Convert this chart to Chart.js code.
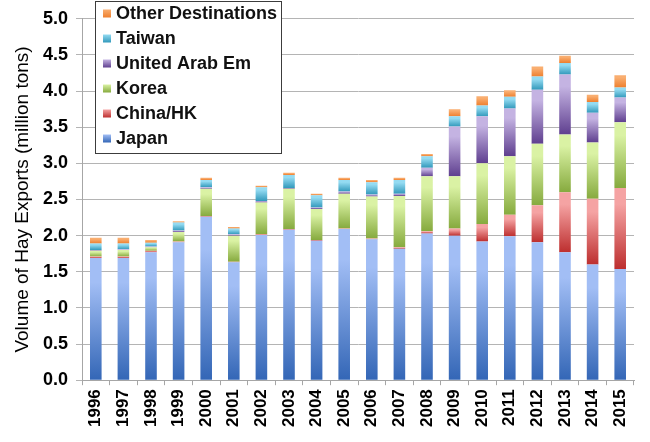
<!DOCTYPE html>
<html>
<head>
<meta charset="utf-8">
<script src="https://cdn.jsdelivr.net/npm/chart.js@4/dist/chart.umd.min.js"></script>
<style>
  html, body { margin: 0; padding: 0; background: #fff; }
  #wrap { width: 650px; height: 442px; }
</style>
</head>
<body>
<div id="wrap"><canvas id="hay"></canvas></div>
<script>
// ========== Data ==========
const years = ["1996", "1997", "1998", "1999", "2000", "2001", "2002", "2003", "2004", "2005",
  "2006", "2007", "2008", "2009", "2010", "2011", "2012", "2013", "2014", "2015"];

const japan  = [1.69, 1.69, 1.77, 1.91, 2.26, 1.63, 2.01, 2.08, 1.93, 2.09, 1.95, 1.82, 2.03, 2.00, 1.92, 1.99, 1.91, 1.77, 1.60, 1.54];
const china  = [0.02, 0.02, 0.02, 0.01, 0.01, 0.01, 0.01, 0.01, 0.01, 0.01, 0.01, 0.02, 0.03, 0.10, 0.24, 0.30, 0.51, 0.83, 0.91, 1.12];
const korea  = [0.08, 0.09, 0.05, 0.13, 0.38, 0.36, 0.44, 0.56, 0.43, 0.48, 0.58, 0.71, 0.76, 0.72, 0.84, 0.81, 0.85, 0.80, 0.78, 0.91];
const uae    = [0.01, 0.01, 0.01, 0.02, 0.02, 0.02, 0.02, 0.01, 0.02, 0.03, 0.03, 0.03, 0.12, 0.69, 0.65, 0.66, 0.75, 0.83, 0.41, 0.34];
const taiwan = [0.09, 0.08, 0.05, 0.11, 0.10, 0.08, 0.19, 0.18, 0.17, 0.16, 0.17, 0.19, 0.16, 0.14, 0.15, 0.16, 0.18, 0.16, 0.15, 0.14];
const other  = [0.08, 0.08, 0.04, 0.02, 0.03, 0.02, 0.02, 0.03, 0.02, 0.03, 0.03, 0.03, 0.03, 0.10, 0.13, 0.09, 0.14, 0.10, 0.10, 0.17];

const yTicks = [0, 0.5, 1, 1.5, 2, 2.5, 3, 3.5, 4, 4.5, 5];

// name, values, light (top) colour, dark (bottom) colour
const series = [
  ["Japan", japan, "#a2bef5", "#3366b6"],
  ["China/HK", china, "#f5a3a3", "#bd2f2f"],
  ["Korea", korea, "#daf2a4", "#86aa3e"],
  ["United Arab Em", uae, "#c4b3e2", "#5f3f8f"],
  ["Taiwan", taiwan, "#94dbf2", "#3299bb"],
  ["Other Destinations", other, "#f9ae70", "#ee7f2e"]
];

// ========== Gradient fill per stacked segment ==========
function hayGradient(light, dark) {
  return function (ctx) {
    const chart = ctx.chart;
    if (ctx.type !== "data" || !chart.scales || !chart.scales.y) return dark;
    const ds = chart.data.datasets;
    let start = 0;
    for (let k = 0; k < ctx.datasetIndex; k++) start += ds[k].data[ctx.dataIndex];
    const end = start + ds[ctx.datasetIndex].data[ctx.dataIndex];
    const yTop = chart.scales.y.getPixelForValue(end);
    const yBot = chart.scales.y.getPixelForValue(start);
    if (!isFinite(yTop) || !isFinite(yBot) || yBot - yTop < 0.5) return dark;
    const g = chart.ctx.createLinearGradient(0, yTop, 0, yBot);
    g.addColorStop(0, light);
    g.addColorStop(0.2, light);
    g.addColorStop(1, dark);
    return g;
  };
}

// ========== Boxed legend drawn inside plot ==========
const boxLegend = {
  id: "boxLegend",
  afterDraw(chart) {
    const c = chart.ctx;
    const x0 = 95, y0 = 1, w = 186, h = 152;
    c.save();
    c.fillStyle = "#ffffff";
    c.fillRect(x0, y0, w, h);
    c.strokeStyle = "#3c3c3c";
    c.lineWidth = 1;
    c.strokeRect(x0 + 0.5, y0 + 0.5, w, h);
    c.font = "bold 18px 'Liberation Sans', Arial, sans-serif";
    c.textBaseline = "middle";
    c.textAlign = "left";
    const items = chart.data.datasets.slice().reverse();
    items.forEach((d, i) => {
      const cy = 13.5 + i * 25;
      const g = c.createLinearGradient(0, cy - 4, 0, cy + 4);
      g.addColorStop(0, d.legendLight);
      g.addColorStop(1, d.legendDark);
      c.fillStyle = g;
      c.fillRect(103, cy - 4, 8, 8);
      c.fillStyle = "#111111";
      c.fillText(d.label, 116, cy + 1);
    });
    c.restore();
  }
};

// ========== Chart ==========
const datasets = series.map(s => ({
  label: s[0],
  data: s[1],
  backgroundColor: hayGradient(s[2], s[3]),
  legendLight: s[2],
  legendDark: s[3],
  borderWidth: 0,
  barPercentage: 0.42,
  categoryPercentage: 1.0
}));

new Chart(document.getElementById("hay"), {
  type: "bar",
  data: { labels: years, datasets },
  options: {
    responsive: true,
    maintainAspectRatio: false,
    animation: false,
    layout: { padding: { left: 0, right: 16, top: 3, bottom: 11 } },
    plugins: {
      legend: { display: false },
      tooltip: { enabled: false }
    },
    scales: {
      x: {
        stacked: true,
        grid: {
          offset: true,
          drawOnChartArea: false,
          drawTicks: true,
          tickLength: 5,
          color: "#a6a6a6"
        },
        border: { color: "#a6a6a6" },
        ticks: {
          minRotation: 90,
          maxRotation: 90,
          autoSkip: false,
          padding: 4,
          color: "#000",
          font: { family: "'Liberation Sans', Arial, sans-serif", size: 17, weight: "bold" }
        }
      },
      y: {
        stacked: true,
        min: 0,
        max: 5,
        afterBuildTicks: scale => { scale.ticks = yTicks.map(v => ({ value: v })); },
        afterFit: scale => { scale.width = 82; },
        grid: { color: "#b4b4b4", tickLength: 6, lineWidth: 1 },
        border: { color: "#a6a6a6" },
        ticks: {
          padding: 8,
          color: "#000",
          callback: v => Number(v).toFixed(1),
          font: { family: "'Liberation Sans', Arial, sans-serif", size: 18, weight: "bold" }
        },
        title: {
          display: true,
          text: "Volume of Hay Exports (million tons)",
          color: "#000",
          padding: { top: 11, bottom: 0 },
          font: { family: "'Liberation Sans', Arial, sans-serif", size: 19 }
        }
      }
    }
  },
  plugins: [boxLegend]
});
</script>
</body>
</html>
